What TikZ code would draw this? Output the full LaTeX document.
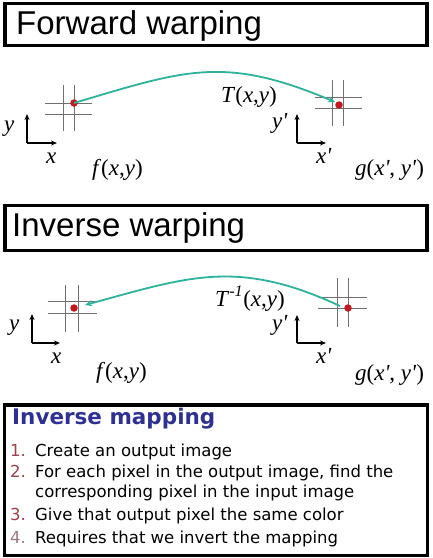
\documentclass[tikz,border=0pt]{standalone}
\usepackage{fontspec}
\setmainfont{Liberation Serif}
\newfontfamily\titlefont{Liberation Sans}
\newfontfamily\listfont{DejaVu Sans}
\usetikzlibrary{arrows.meta}
\definecolor{teal1}{HTML}{2DB39B}
\definecolor{dotred}{HTML}{C0181E}
\definecolor{gridgray}{HTML}{707070}
\definecolor{titleblue}{HTML}{2E3192}
\definecolor{numred}{HTML}{A0404A}
\definecolor{numgray}{HTML}{9A7A7E}
\newcommand{\mi}[1]{\textit{#1}}
\newcommand{\pr}{\textit{\textquotesingle}}
\tikzset{
  framebox/.style={draw=black, line width=3.5pt},
  headtext/.style={anchor=base west, inner sep=0pt, font=\titlefont\fontsize{33}{36}\selectfont},
  mathlbl/.style={anchor=base west, inner sep=0pt, font=\fontsize{23}{26}\selectfont},
  gridline/.style={draw=gridgray, line width=0.9pt},
  pdot/.style={circle, fill=dotred, inner sep=0pt, minimum size=7.5pt},
  warp/.style={draw=teal1, line width=1.8pt, -{Stealth[length=7pt,width=6pt]}},
  axis/.style={draw=black, line width=1.1pt, -{Stealth[length=6pt,width=5pt]}},
  listtext/.style={anchor=base west, inner sep=0pt, font=\listfont\fontsize{16.5}{20}\selectfont},
  listnum/.style={anchor=base west, inner sep=0pt, font=\listfont\fontsize{16.5}{20}\selectfont},
}
\begin{document}
\begin{tikzpicture}[x=1pt,y=-1pt]
\useasboundingbox (0,0) rectangle (432,558);
\fill[white] (0,0) rectangle (432,558);

% ---------- Forward warping ----------
\draw[framebox] (5,3.5) rectangle (427,45.5);
\node[headtext] (fwtitle) at (16,34) {Forward warping};

% source grid
\draw[gridline] (45,103) -- (92,103);
\draw[gridline] (45,114) -- (92,114);
\draw[gridline] (63,85) -- (63,131);
\draw[gridline] (74,85) -- (74,131);
\node[pdot] (fsrc) at (74,103) {};
% target grid
\draw[gridline] (315,97) -- (362,97);
\draw[gridline] (315,108) -- (362,108);
\draw[gridline] (332,80) -- (332,126);
\draw[gridline] (343,80) -- (343,126);
\node[pdot] (fdst) at (339,105) {};
\coordinate (ftip) at (335,102);
\draw[warp] (fsrc.center) .. controls (185,70) and (224,55) .. (ftip);
\node[mathlbl] (flbl) at (221,102) {\mi{T}(\mi{x},\mi{y})};

% axes
\coordinate (fo1) at (27,143);
\coordinate (fo1y) at (27,114);
\coordinate (fo1x) at (57,143);
\draw[axis] (fo1) -- (fo1y);
\draw[axis] (fo1) -- (fo1x);
\node[mathlbl] (fy1) at (4,131) {\mi{y}};
\node[mathlbl] (fx1) at (46,163) {\mi{x}};
\node[mathlbl] (ff) at (92,175) {\mi{f}(\mi{x},\mi{y})};

\coordinate (fo2) at (297,143);
\coordinate (fo2y) at (297,114);
\coordinate (fo2x) at (326,143);
\draw[axis] (fo2) -- (fo2y);
\draw[axis] (fo2) -- (fo2x);
\node[mathlbl] (fy2) at (272,128) {\mi{y}\pr};
\node[mathlbl] (fx2) at (316,163) {\mi{x}\pr};
\node[mathlbl] (fg) at (355,175) {\mi{g}(\mi{x}\pr, \mi{y}\pr)};

% ---------- Inverse warping ----------
\draw[framebox] (5,205.5) rectangle (427,250.5);
\node[headtext] (ivtitle) at (12,236) {Inverse warping};

\draw[gridline] (48,301) -- (97,301);
\draw[gridline] (48,313) -- (97,313);
\draw[gridline] (65,285) -- (65,332);
\draw[gridline] (78,285) -- (78,332);
\node[pdot] (isrc) at (74,308) {};
\coordinate (itip) at (85,305);

\draw[gridline] (318,297) -- (367,297);
\draw[gridline] (318,308) -- (367,308);
\draw[gridline] (337,278) -- (337,327);
\draw[gridline] (348,278) -- (348,327);
\node[pdot] (idst) at (348,308) {};
\coordinate (istart) at (340,306);
\draw[warp] (istart) .. controls (237,258) and (188,277) .. (itip);
\node[mathlbl] (ilbl) at (215,306) {\mi{T}\textsuperscript{\mi{-1}}(\mi{x},\mi{y})};

\coordinate (io1) at (32,343);
\coordinate (io1y) at (32,314);
\coordinate (io1x) at (60,343);
\draw[axis] (io1) -- (io1y);
\draw[axis] (io1) -- (io1x);
\node[mathlbl] (iy1) at (9,330) {\mi{y}};
\node[mathlbl] (ix1) at (51,363) {\mi{x}};
\node[mathlbl] (if) at (96,378) {\mi{f}(\mi{x},\mi{y})};

\coordinate (io2) at (297,343);
\coordinate (io2y) at (297,315);
\coordinate (io2x) at (326,343);
\draw[axis] (io2) -- (io2y);
\draw[axis] (io2) -- (io2x);
\node[mathlbl] (iy2) at (272,330) {\mi{y}\pr};
\node[mathlbl] (ix2) at (316,363) {\mi{x}\pr};
\node[mathlbl] (ig) at (355,380) {\mi{g}(\mi{x}\pr, \mi{y}\pr)};

% ---------- Inverse mapping box ----------
\draw[framebox] (4.5,405) rectangle (427.5,555.5);
\node[anchor=base west, inner sep=0pt, text=titleblue, font=\listfont\bfseries\fontsize{21.5}{24}\selectfont] (imtitle) at (12,424) {Inverse mapping};

\node[listnum, text=numred] (n1) at (10,456) {1.};
\node[listtext] (t1) at (35,456) {Create an output image};
\node[listnum, text=numred] (n2) at (10,477) {2.};
\node[listtext] (t2) at (35,477) {For each pixel in the output image, find the};
\node[listtext] (t2b) at (35,497) {corresponding pixel in the input image};
\node[listnum, text=numred] (n3) at (10,520) {3.};
\node[listtext] (t3) at (35,520) {Give that output pixel the same color};
\node[listnum, text=numgray] (n4) at (10,543) {4.};
\node[listtext] (t4) at (35,543) {Requires that we invert the mapping};
\end{tikzpicture}
\end{document}
